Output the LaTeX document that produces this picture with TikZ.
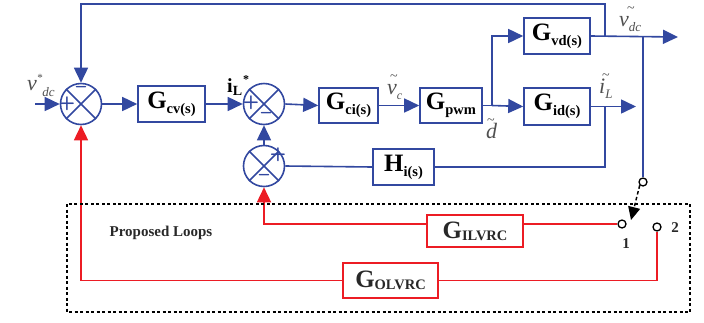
\documentclass[tikz,border=0pt]{standalone}
\usepackage{fontspec}
\setmainfont{Liberation Serif}
\usetikzlibrary{arrows.meta,calc}
\definecolor{cblue}{RGB}{50,72,160}
\definecolor{cred}{RGB}{236,28,36}
\definecolor{lblgray}{RGB}{80,80,80}
\definecolor{dgray}{RGB}{40,40,40}
\newcommand{\Gsub}[2]{{\fontsize{25}{25}\selectfont\bfseries #1\raisebox{-5pt}{\fontsize{14.5}{14.5}\selectfont #2}}}
\newcommand{\Gcap}[2]{{\fontsize{25}{25}\selectfont\bfseries #1\raisebox{-2pt}{\fontsize{14.5}{14.5}\selectfont #2}}}
\newcommand{\tl}[1]{\makebox[0pt][l]{\hspace{#1}\raisebox{14pt}{\fontsize{14}{14}\selectfont\upshape\textasciitilde}}}
\begin{document}
\begin{tikzpicture}[x=1pt,y=-1pt,
  blk/.style={draw=cblue,line width=1.6pt,minimum height=36pt,inner sep=0pt,text=black},
  rblk/.style={draw=cred,line width=1.6pt,inner sep=0pt,text=dgray},
  sum/.style={circle,draw=cblue,line width=1.6pt,minimum size=41pt,inner sep=0pt},
  wire/.style={draw=cblue,line width=1.6pt},
  arr/.style={wire,-{Triangle[length=15pt,width=14pt]}},
  rwire/.style={draw=cred,line width=1.6pt},
  rarr/.style={rwire,-{Triangle[length=15pt,width=14pt]}},
  contact/.style={circle,draw=black,line width=1.3pt,fill=white,minimum size=8pt,inner sep=0pt},
  lbl/.style={text=lblgray,font=\fontsize{22}{22}\selectfont\itshape,inner sep=0pt},
  sgn/.style={text=cblue,font=\fontsize{19}{19}\selectfont\sffamily\bfseries,inner sep=0pt},
  numlbl/.style={text=dgray,font=\fontsize{15}{15}\selectfont\bfseries,inner sep=0pt}
]
\useasboundingbox (0,0) rectangle (704,322);

% summing junctions
\node[sum] (s1) at (81,104) {};
\node[sum] (s2) at (264,104) {};
\node[sum] (s3) at (264,166) {};
\foreach \s in {s1,s2,s3} {\draw[wire] (\s.45)--(\s.225) (\s.135)--(\s.315);}
\node[sgn] (s1p) at (67,104) {+};
\node[sgn] (s1m) at (81,89) {--};
\node[sgn] (s2p) at (251,103) {+};
\node[sgn] (s2m) at (266,115) {--};
\node[sgn] (s3p) at (278,155) {+};
\node[sgn] (s3m) at (264,177) {--};

% blocks
\node[blk,minimum width=67pt] (gcv) at (171.5,104) {\Gsub{G}{cv(s)}};
\node[blk,minimum width=59pt,minimum height=35pt] (gci) at (348.5,105.5) {\Gsub{G}{ci(s)}};
\node[blk,minimum width=62pt,minimum height=35pt] (gpwm) at (451,105.5) {\Gsub{G}{pwm}};
\node[blk,minimum width=66pt] (gvd) at (557,36) {\Gsub{G}{vd(s)}};
\node[blk,minimum width=66pt,minimum height=37pt] (gid) at (557,106.5) {\Gsub{G}{id(s)}};
\node[blk,minimum width=61pt] (hi) at (403.5,167) {\Gsub{H}{i(s)}};
\node[rblk,minimum width=96pt,minimum height=32pt] (gil) at (475,231) {\Gcap{G}{ILVRC}};
\node[rblk,minimum width=95pt,minimum height=35pt] (gol) at (390.5,280.5) {\Gcap{G}{OLVRC}};

% coordinates
\coordinate (vin) at (35,104);
\coordinate (br) at (492,105.5);
\coordinate (vout) at (678,37);
\coordinate (fbtop) at (605,37);
\coordinate (vdc) at (643,37);
\coordinate (iout) at (636,106.5);
\coordinate (ilt) at (605,106.5);
\coordinate (swtip) at (631,220);

% switch contacts
\node[contact] (piv) at (643,182) {};
\node[contact] (c1) at (622,224) {};
\node[contact] (c2) at (657,227) {};
\node[numlbl] (n1) at (626,244) {1};
\node[numlbl] (n2) at (675,228) {2};

% blue signal paths
\draw[arr] (vin) -- (s1.west);
\draw[arr] (s1.east) -- (gcv.west);
\draw[arr] (gcv.east) -- (s2.west);
\draw[arr] (s2.east) -- (gci.west);
\draw[arr] (gci.east) -- (gpwm.west);
\draw[wire] (gpwm.east) -- (br);
\draw[arr] (br) -- (gid.west);
\draw[arr] (br) |- (gvd.west);
\draw[arr] (gvd.east) -- (vout);
\draw[arr] (fbtop) -- (605,4) -| (s1.north);
\draw[arr] (gid.east) -- (iout);
\draw[wire] (ilt) |- (hi.east);
\draw[wire] (hi.west) -- (s3.east);
\draw[arr] (s3.north) -- (s2.south);
\draw[wire] (vdc) -- (piv.north);
\draw[black,line width=1.5pt,dash pattern=on 3.5pt off 2.5pt,-{Triangle[length=13pt,width=12pt]}] (piv.south west) -- (swtip);

% red proposed loops
\draw[rwire] (c1.west) -- (gil.east |- c1.center);
\draw[rarr] (gil.west |- c1.center) -| (s3.south);
\draw[rwire] (c2.south) |- (gol.east);
\draw[rarr] (gol.west) -| (s1.south);

% dotted frame
\draw[black,line width=1.8pt,dash pattern=on 3pt off 2.5pt] (67,204) rectangle (690,312);
\node[text=dgray,font=\fontsize{15}{15}\selectfont\bfseries,inner sep=0pt] (pl) at (161,233) {Proposed Loops};

% labels
\node[lbl,anchor=base west] (vref) at (27,90) {v\raisebox{9pt}{\fontsize{11}{11}\selectfont *}\raisebox{-6pt}{\fontsize{13}{13}\selectfont dc}};
\node[text=black,font=\fontsize{20}{20}\selectfont\bfseries,inner sep=0pt,anchor=base west] (ilref) at (227,92) {i\raisebox{-3pt}{\fontsize{14}{14}\selectfont L}\hspace{1pt}\raisebox{9pt}{\fontsize{12}{12}\selectfont *}};
\node[lbl,anchor=base west] (vc) at (387,94) {\tl{3pt}v\raisebox{-5pt}{\fontsize{12}{12}\selectfont c}};
\node[lbl,anchor=base west] (dl) at (486,138) {\tl{1pt}d};
\node[lbl,anchor=base west] (vdcl) at (619,26) {\tl{8pt}v\raisebox{-5pt}{\fontsize{13}{13}\selectfont dc}};
\node[lbl,anchor=base west] (il) at (599,93) {\tl{3pt}i\raisebox{-5pt}{\fontsize{13}{13}\selectfont L}};
\end{tikzpicture}
\end{document}
